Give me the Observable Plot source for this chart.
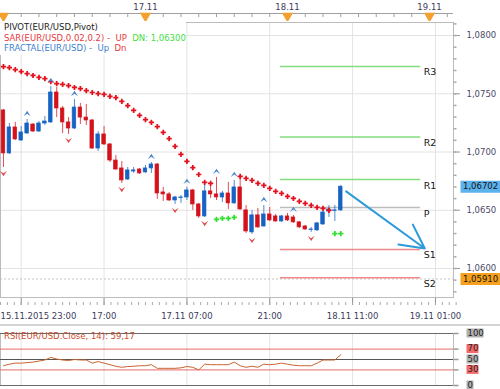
<!DOCTYPE html>
<html><head><meta charset="utf-8">
<script src="https://cdn.jsdelivr.net/npm/d3@7"></script>
<script src="https://cdn.jsdelivr.net/npm/@observablehq/plot@0.6"></script>
<style>
body{margin:0;background:#fff;}
#wrap{position:relative;width:500px;height:389px;overflow:hidden;font-family:"DejaVu Sans",Verdana,sans-serif;background:#fff;}
#wrap svg{position:absolute;left:0;}
.leg{position:absolute;left:0;top:22px;width:186px;height:33px;background:#fff;font-size:8.5px;line-height:10.5px;padding:0 0 0 4px;box-sizing:border-box;white-space:pre;}
.rsit{position:absolute;left:4px;top:331px;display:inline-block;width:auto;font-size:8.5px;line-height:10px;color:#cc4a2a;white-space:pre;}
.sep{position:absolute;left:0;top:324px;width:500px;height:2px;background:#d4d4d4;}
</style></head><body>
<div id="wrap"></div>
<script>
// ---- data (hour index 0 = 16.11 00:00) ----
const open  = [1.07357,1.06988,1.07211,1.07099,1.07159,1.07236,1.07176,1.07245,1.07254,1.07511,
               1.07374,1.07254,1.07202,1.07382,1.07296,1.07271,1.07030,1.07151,1.07065,1.06927,
               1.06859,1.06764,1.06833,1.06850,1.06825,1.06859,1.06893,1.06653,1.06636,1.06584,
               1.06606,1.06610,1.06670,1.06550,1.06447,1.06662,1.06636,1.06610,1.06644,1.06559,
               1.06696,1.06499,1.06310,1.06456,1.06361,1.06464,1.06447,1.06404,1.06447,1.06438,
               1.06396,1.06361,1.06331,1.06327,1.06378,1.06490,1.06495,1.06499];
const high  = [1.07365,1.07245,1.07254,1.07219,1.07279,1.07245,1.07262,1.07305,1.07562,1.07554,
               1.07391,1.07296,1.07451,1.07417,1.07408,1.07279,1.07176,1.07219,1.07073,1.06970,
               1.06919,1.06867,1.06867,1.06859,1.06885,1.06910,1.06902,1.06696,1.06653,1.06619,
               1.06627,1.06696,1.06679,1.06559,1.06730,1.06739,1.06782,1.06662,1.06739,1.06756,
               1.06773,1.06541,1.06499,1.06516,1.06541,1.06524,1.06464,1.06456,1.06473,1.06456,
               1.06404,1.06370,1.06353,1.06396,1.06490,1.06541,1.06541,1.06713];
const low   = [1.06867,1.06979,1.07099,1.07091,1.07151,1.07168,1.07168,1.07228,1.07245,1.07296,
               1.07159,1.07151,1.07193,1.07236,1.07228,1.07022,1.07005,1.07056,1.06910,1.06842,
               1.06730,1.06756,1.06816,1.06807,1.06816,1.06816,1.06593,1.06576,1.06576,1.06550,
               1.06559,1.06584,1.06499,1.06430,1.06438,1.06601,1.06584,1.06567,1.06507,1.06550,
               1.06499,1.06301,1.06293,1.06344,1.06353,1.06404,1.06396,1.06396,1.06404,1.06387,
               1.06344,1.06327,1.06310,1.06318,1.06370,1.06438,1.06404,1.06490];
const close = [1.06988,1.07211,1.07108,1.07168,1.07245,1.07176,1.07245,1.07262,1.07511,1.07374,
               1.07254,1.07202,1.07382,1.07296,1.07271,1.07030,1.07151,1.07065,1.06927,1.06850,
               1.06756,1.06842,1.06842,1.06816,1.06859,1.06893,1.06644,1.06636,1.06584,1.06610,
               1.06610,1.06670,1.06550,1.06447,1.06662,1.06636,1.06610,1.06644,1.06559,1.06696,
               1.06507,1.06318,1.06456,1.06353,1.06464,1.06413,1.06404,1.06447,1.06413,1.06396,
               1.06353,1.06335,1.06335,1.06387,1.06481,1.06507,1.06499,1.06702];
const sar   = [1.07734,1.07725,1.07708,1.07691,1.07674,1.07657,1.07640,1.07631,1.07605,1.07588,
               1.07580,1.07571,1.07554,1.07545,1.07528,1.07511,1.07502,1.07494,1.07477,1.07468,
               1.07434,1.07399,1.07357,1.07314,1.07279,1.07254,1.07219,1.07168,1.07116,1.07048,
               1.06979,1.06919,1.06867,1.06807,1.06739,1.06730,1.06421,1.06430,1.06430,1.06438,
               1.06790,1.06773,1.06756,1.06730,1.06713,1.06687,1.06662,1.06644,1.06619,1.06601,
               1.06576,1.06559,1.06541,1.06524,1.06516,1.06499,1.06300,1.06300];
const sarUpHours   = [36,37,38,39,56,57];
const fractalUp    = [4,8,12,25,31,36,39,44,49];
const fractalDn    = [0,11,20,29,34,42,52];
const pivotNames   = ["R3","R2","R1","P","S1","S2"];
const pivotValues  = [1.07735,1.07130,1.06764,1.06524,1.06164,1.05920];
const pivotFrom = 46.8, pivotTo = 70.5;
const arrowStart = {t: 57.9, p: 1.06662};
const arrowEnd   = {t: 71.2, p: 1.06172};
const lastPrice = 1.06702;
const askPrice  = 1.05910;
const rsi = [38,41,43,43,44,45,47,49,54,51,49,48,50,49,49,43,46,43,40,37,
             35,36.5,37,38,38,40,33,33,33,33,34,36.5,35,30,41,40,40,40,40,45,
             38,35,37,35,41,40,41,43,41,39,38,38,38,43,49,49,49,59.17];
const rsiLevels = [100,70,50,30,0];
const priceTicks = [1.060,1.065,1.070,1.075,1.080];
const gridHours = [3,17,31,45,59,73];
const bottomLabels = ["15.11.2015 23:00","17:00","17.11 07:00","21:00","18.11 11:00","19.11 01:00"];
const dayHours = [0,24,48,72];
const dayLabels = ["","17.11","18.11","19.11"];

// ---- layout/style ----
const W = 500, MR = 47;
const xDomain = [-0.5, 76.05];
const yDomain = [1.05751, 1.08112];
const RED = "#d3121c", BLUE = "#1763c4";
const fmt4 = d => d3.format(".4f")(d).replace(".", ",");
const fmt5 = d => d3.format(".5f")(d).replace(".", ",");
const font = {fontFamily: "DejaVu Sans, Verdana, sans-serif", fontSize: "8.5px", background: "transparent", color: "#4a4a68"};

const candles = open.map((o, i) => ({t: i, o, h: high[i], l: low[i], c: close[i], up: close[i] >= o}));
const sarData = sar.map((v, i) => ({t: i, v, up: sarUpHours.includes(i)}));
const fUp = fractalUp.map(t => ({t, v: high[t]}));
const fDn = fractalDn.map(t => ({t, v: low[t]}));
const pivots = pivotNames.map((name, i) => ({name, v: pivotValues[i]}));
const rsiData = rsi.map((v, i) => ({t: i, v}));
const priceTags = [lastPrice, askPrice];

const chevUp = {draw(ctx, size){const s = Math.sqrt(size)/2; ctx.moveTo(-s, s*0.75); ctx.lineTo(0, -s*0.75); ctx.lineTo(s, s*0.75); ctx.lineTo(0, s*0.05); ctx.closePath();}};
const chevDn = {draw(ctx, size){const s = Math.sqrt(size)/2; ctx.moveTo(-s, -s*0.75); ctx.lineTo(0, s*0.75); ctx.lineTo(s, -s*0.75); ctx.lineTo(0, -s*0.05); ctx.closePath();}};
const boxSym = h => ({draw(ctx, size){const w = Math.sqrt(size/Math.PI); ctx.rect(0, -h/2, w, h);}});
const tickSym = len => ({draw(ctx){ctx.moveTo(0, 0); ctx.lineTo(len, 0);}});

const wrap = document.getElementById("wrap");
function place(svg, top){ svg.style.top = top + "px"; wrap.appendChild(svg); }

// top time axis
const topAxis = Plot.plot({
  width: W, height: 21, marginTop: 13, marginBottom: 4, marginLeft: 0, marginRight: MR,
  style: font,
  x: {domain: xDomain, axis: null},
  y: {domain: [0, 1], axis: null},
  marks: [
    Plot.ruleX(d3.range(0, 77, 3), {stroke: "#a0a0a0"}),
    Plot.ruleY([1], {stroke: "#a0a0a0"}),
    Plot.dot(dayHours, {x: d => d, frameAnchor: "top", symbol: "triangle", rotate: 180, r: 4.2, dy: 2.5, fill: "#f2a12e"}),
    Plot.axisX({anchor: "top", ticks: dayHours.slice(1), tickSize: 0, tickPadding: 4,
      tickFormat: d => dayLabels[dayHours.indexOf(d)], fill: "#3c3c5a"})
  ]
});
place(topAxis, 0);

// main price chart
const main = Plot.plot({
  width: W, height: 277, marginTop: 1, marginBottom: 1, marginLeft: 0, marginRight: MR,
  style: font,
  x: {domain: xDomain, axis: null},
  y: {domain: yDomain, axis: null},
  marks: [
    Plot.gridY(priceTicks, {stroke: "#e3e3e3", strokeOpacity: 1}),
    Plot.gridX(gridHours, {stroke: "#e3e3e3", strokeOpacity: 1}),
    Plot.ruleY([askPrice], {stroke: "#c4c4c4", strokeDasharray: "2,2"}),
    Plot.frame({stroke: "#bcbcbc"}),
    Plot.ruleY(pivots.filter(d => d.name[0] === "R"), {y: "v", x1: () => pivotFrom, x2: () => pivotTo, stroke: "#82de7e", strokeWidth: 1.5}),
    Plot.ruleY(pivots.filter(d => d.name === "P"), {y: "v", x1: () => pivotFrom, x2: () => pivotTo, stroke: "#bdbdbd", strokeWidth: 1.5}),
    Plot.ruleY(pivots.filter(d => d.name[0] === "S"), {y: "v", x1: () => pivotFrom, x2: () => pivotTo, stroke: "#f08a8a", strokeWidth: 1.5}),
    Plot.text(pivots, {y: "v", x: () => pivotTo, text: "name", textAnchor: "start", dx: 3, dy: 6, fontSize: 9.5, fill: "#151515"}),
    Plot.ruleX(candles.filter(d => !d.up), {x: "t", y1: "l", y2: "h", stroke: RED, strokeOpacity: 0.75}),
    Plot.ruleX(candles.filter(d => d.up), {x: "t", y1: "l", y2: "h", stroke: BLUE, strokeOpacity: 0.75}),
    Plot.rect(candles.filter(d => !d.up), {x1: d => d.t - 0.3, x2: d => d.t + 0.3, y1: "o", y2: "c", fill: RED, stroke: RED, strokeWidth: 0.7}),
    Plot.rect(candles.filter(d => d.up), {x1: d => d.t - 0.3, x2: d => d.t + 0.3, y1: "o", y2: "c", fill: BLUE, stroke: BLUE, strokeWidth: 0.7}),
    Plot.dot(sarData.filter(d => !d.up), {x: "t", y: "v", symbol: "cross", r: 2.2, fill: "#e4101c"}),
    Plot.dot(sarData.filter(d => d.up), {x: "t", y: "v", symbol: "cross", r: 2.2, fill: "#2fe02f"}),
    Plot.dot(fUp, {x: "t", y: "v", symbol: chevUp, r: 4, dy: -6, fill: "#4d84cc"}),
    Plot.dot(fDn, {x: "t", y: "v", symbol: chevDn, r: 4, dy: 6, fill: "#e04a4a"}),
    Plot.arrow([{x1: arrowStart.t, y1: arrowStart.p, x2: arrowEnd.t, y2: arrowEnd.p}],
      {x1: "x1", y1: "y1", x2: "x2", y2: "y2", stroke: "#2b9bd9", strokeWidth: 2, headLength: 20, headAngle: 55}),
    Plot.axisY({anchor: "right", ticks: priceTicks, tickFormat: fmt4, tickSize: 6, tickPadding: 7, fill: "#4a4a68", stroke: "#999"}),
    Plot.dot(d3.range(1.058, 1.0812, 0.001), {y: d => d, frameAnchor: "right", symbol: tickSym(3), r: 1, stroke: "#aaa", fill: "none"}),
    Plot.dot(priceTags, {y: d => d, frameAnchor: "right", dx: 7, symbol: boxSym(12), r: 40,
      fill: d => d === lastPrice ? "#5cb2ea" : "#f6a01c"}),
    Plot.text(priceTags, {y: d => d, text: d => fmt5(d), frameAnchor: "right", dx: 9.5, textAnchor: "start", fill: "#151515"})
  ]
});
place(main, 21);

// bottom time axis
const bottomAxis = Plot.plot({
  width: W, height: 26, marginTop: 0, marginBottom: 19, marginLeft: 0, marginRight: MR,
  style: font,
  x: {domain: xDomain, axis: null},
  marks: [
    Plot.ruleX(gridHours, {stroke: "#8c8c8c"}),
    Plot.ruleX(d3.range(-0.5, 77, 14/12), {stroke: "#a8a8a8", insetTop: 4}),
    Plot.axisX({anchor: "bottom", ticks: gridHours.slice(1), tickSize: 0, tickPadding: 7,
      tickFormat: d => bottomLabels[gridHours.indexOf(d)], fill: "#3c3c5a"}),
    Plot.text([bottomLabels[0]], {x: () => xDomain[0], text: d => d, frameAnchor: "bottom", textAnchor: "start", lineAnchor: "top", dy: 7, fill: "#3c3c5a"})
  ]
});
place(bottomAxis, 298);

const sep = document.createElement("div"); sep.className = "sep"; wrap.appendChild(sep);

// RSI panel
const rsiPlot = Plot.plot({
  width: W, height: 63, marginTop: 7, marginBottom: 4, marginLeft: 0, marginRight: MR,
  style: font,
  x: {domain: xDomain, axis: null},
  y: {domain: [0, 100], axis: null},
  r: {type: "identity"},
  marks: [
    Plot.gridX(gridHours, {stroke: "#e3e3e3", strokeOpacity: 1}),
    Plot.frame({stroke: "#bcbcbc"}),
    Plot.ruleY([70, 30], {stroke: "#e86a6a"}),
    Plot.ruleY([100, 0], {stroke: "#6a6a6a"}),
    Plot.ruleY([50], {stroke: "#555"}),
    Plot.line(rsiData, {x: "t", y: "v", stroke: "#c8642e", strokeWidth: 1}),
    Plot.dot(rsiLevels, {y: d => d, frameAnchor: "right", symbol: tickSym(5), r: 1, stroke: "#999", fill: "none"}),
    Plot.dot(rsiLevels, {y: d => d, frameAnchor: "right", dx: 13, dy: -0.5, symbol: boxSym(9), r: d => String(d).length * 5 + 2,
      fill: d => (d === 70 || d === 30) ? "#f26a6a" : "#b0b0b0"}),
    Plot.text(rsiLevels, {y: d => d, text: d => String(d), frameAnchor: "right", dx: 14, dy: -0.5, textAnchor: "start", fill: "#222", fontSize: 8.5})
  ]
});
place(rsiPlot, 326);

// legends (text)
const leg = document.createElement("div");
leg.className = "leg";
leg.innerHTML =
  '<div style="color:#222">PIVOT(EUR/USD,Pivot)</div>' +
  '<div><span style="color:#e8383d">SAR(EUR/USD,0.02,0.2) -  UP</span>  <span style="color:#3fe03f">DN: 1,06300</span></div>' +
  '<div><span style="color:#3f7fcf">FRACTAL(EUR/USD) -  Up</span>  <span style="color:#e8383d">Dn</span></div>';
wrap.appendChild(leg);
const rt = document.createElement("span");
rt.className = "rsit";
rt.textContent = "RSI(EUR/USD.Close, 14): 59,17";
wrap.appendChild(rt);
</script></body></html>
